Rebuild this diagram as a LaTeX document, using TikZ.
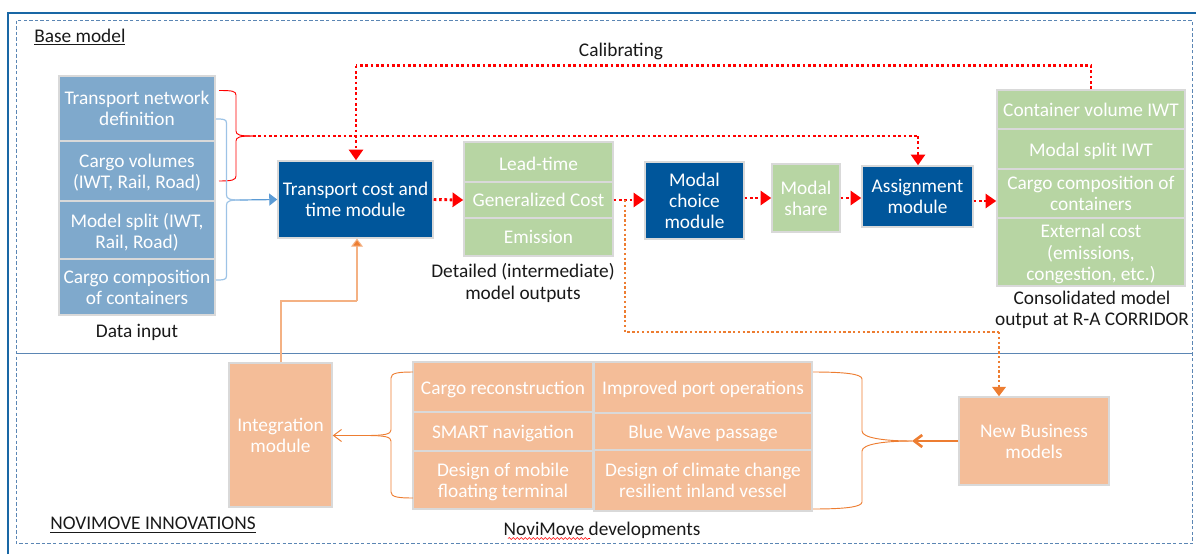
\documentclass[tikz,border=0pt]{standalone}
\usepackage{fontspec}
\setmainfont{Carlito}
\usetikzlibrary{arrows.meta,decorations.pathmorphing}
\definecolor{bluebox}{HTML}{7FA9CC}
\definecolor{navy}{HTML}{00569B}
\definecolor{greenbox}{HTML}{B7D5A3}
\definecolor{orangebox}{HTML}{F4BD98}
\definecolor{edgegrey}{HTML}{D9D9D9}
\definecolor{frameblue}{HTML}{5B86B4}
\definecolor{orangeline}{HTML}{ED7D31}
\definecolor{lightorange}{HTML}{F4B183}
\definecolor{lightblue}{HTML}{9DC3E6}
\definecolor{midblue}{HTML}{5B9BD5}
\newcommand{\bx}[7]{\node[boxbase,#6,minimum width={(#4-#2)*0.75pt},minimum height={(#5-#3)*0.75pt}] (#1) at ({(#2+#4)/2},{(#3+#5)/2}) {#7};}
\newcommand{\dn}[1]{\raisebox{-1.5pt}[\height][\depth]{#1}}
\tikzset{
  boxbase/.style={draw=edgegrey,line width=1.1pt,inner sep=0pt,align=center,text=white,font=\fontsize{14.5}{15.8}\selectfont},
  bluefill/.style={fill=bluebox},
  navyfill/.style={fill=navy,text=white},
  greenfill/.style={fill=greenbox},
  orangefill/.style={fill=orangebox},
  lbl/.style={text=black!90,align=center,inner sep=0pt,font=\fontsize{14.5}{16.2}\selectfont},
  reddot/.style={draw=red,line width=2.2pt,dash pattern=on 2pt off 2pt,-{Triangle[length=8pt,width=10.5pt,fill=red]}},
  reddotplain/.style={draw=red,line width=2.2pt,dash pattern=on 2pt off 2pt},
  orangedot/.style={draw=orangeline,line width=1.8pt,dash pattern=on 1.8pt off 1.8pt},
  thinbrace/.style={line width=0.7pt},
}
\begin{document}
\begin{tikzpicture}[x=0.75pt,y=-0.75pt]
\useasboundingbox (0,0) rectangle (1196,554);
% frames
\draw[draw=navy!90,line width=1.5pt] (7.5,554) -- (7.5,12.5) -- (1196,12.5);
\draw[frameblue,line width=0.7pt,dash pattern=on 2.6pt off 1.6pt] (16,20.5) rectangle (1192.5,543.5);
\draw[frameblue,line width=0.7pt] (16,353.5) -- (1192.5,353.5);
% left input boxes
\bx{tn}{59}{76}{215}{141}{bluefill}{Transport network\\definition}
\bx{cv}{59}{141}{215}{201}{bluefill}{\dn{Cargo volumes}\\\dn{(IWT, Rail, Road)}}
\bx{ms}{59}{201}{215}{259}{bluefill}{\dn{Model split (IWT,}\\\dn{Rail, Road)}}
\bx{cc}{59}{259}{215}{315}{bluefill}{Cargo composition\\of containers}
% modules
\bx{tc}{278}{161}{433}{238}{navyfill}{Transport cost and\\time module}
\bx{lt}{464}{142}{613}{182}{greenfill}{\dn{Lead-time}}
\bx{gc}{464}{182}{613}{218}{greenfill}{Generalized Cost}
\bx{em}{464}{218}{613}{256}{greenfill}{Emission}
\bx{mc}{645}{162}{744}{239}{navyfill}{Modal\\choice\\module}
\bx{mshare}{772}{164}{840}{232}{greenfill}{Modal\\share}
\bx{am}{862}{166}{973}{227}{navyfill}{Assignment\\module}
\bx{cvol}{997}{90}{1185}{129}{greenfill}{Container volume IWT}
\bx{msp}{997}{129}{1185}{169}{greenfill}{\dn{Modal split IWT}}
\bx{ccomp}{997}{169}{1185}{218}{greenfill}{Cargo composition of\\containers}
\bx{ext}{997}{218}{1185}{286}{greenfill}{\dn{External cost}\\\dn{(emissions,}\\\dn{congestion, etc.)}}
% innovations
\bx{im}{229}{363}{332}{507}{orangefill}{Integration\\module}
\bx{cr}{413}{362}{593}{412}{orangefill}{\dn{Cargo reconstruction}}
\bx{sn}{413}{412}{593}{451}{orangefill}{\dn{SMART navigation}}
\bx{dm}{413}{451}{593}{509}{orangefill}{\dn{Design of mobile}\\\dn{floating terminal}}
\bx{ip}{594}{362}{812}{413}{orangefill}{\dn{Improved port operations}}
\bx{bw}{594}{413}{812}{450}{orangefill}{\dn{Blue Wave passage}}
\bx{dc}{594}{450}{812}{511}{orangefill}{Design of climate change\\resilient inland vessel}
\bx{nb}{959}{397}{1109}{485}{orangefill}{New Business\\models}
% labels
\node[lbl,anchor=west] (base) at (34,37) {\underline{Base model}};
\node[lbl] (calib) at (621,51) {Calibrating};
\node[lbl] (di) at (137,332) {Data input};
\node[lbl] (dt) at (523,283) {Detailed (intermediate)\\model outputs};
\node[lbl] (cons) at (1092,310) {Consolidated model\\output at R-A CORRIDOR};
\node[lbl,anchor=west] (nin) at (50,525) {\underline{NOVIMOVE INNOVATIONS}};
\node[lbl] (nd) at (602,530) {NoviMove developments};
\coordinate (sq1) at (508,538.5);
\coordinate (sq2) at (590,538.5);
\draw[red,line width=0.4pt,decorate,decoration={snake,amplitude=0.7pt,segment length=3pt}] (sq1) -- (sq2);
% red brace
\coordinate (rb1) at (219,90.5);
\coordinate (rb2) at (219,181);
\coordinate (rbt) at (253,136);
\draw[red,thinbrace] (rb1) .. controls (232,90.5) and (236,91) .. (236,95) -- (236,131) .. controls (236,135) and (240,136) .. (rbt);
\draw[red,thinbrace] (rb2) .. controls (232,181) and (236,180) .. (236,176) -- (236,141) .. controls (236,137) and (240,136) .. (rbt);
% blue brace
\coordinate (bb1) at (216,119);
\coordinate (bb2) at (216,280);
\coordinate (bbt) at (240,200);
\draw[lightblue,line width=0.9pt] (bb1) .. controls (223,119) and (226.5,119) .. (226.5,123) -- (226.5,195) .. controls (226.5,199) and (230,200) .. (bbt);
\draw[lightblue,line width=0.9pt] (bb2) .. controls (223,280) and (226.5,280) .. (226.5,276) -- (226.5,205) .. controls (226.5,201) and (230,200) .. (bbt);
\draw[midblue,line width=0.9pt,-{Triangle[length=6pt,width=9pt,fill=midblue]}] (bbt) -- (tc.west);
% red dotted
\coordinate (rc) at (918,136);
\draw[reddotplain] (rbt) -- (rc);
\draw[reddot] (rc) -- (am.north -| rc);
\coordinate (cal1) at (1091,89);
\coordinate (cal2) at (1091,65.5);
\coordinate (cal3) at (356,65.5);
\draw[reddotplain] (cal1) -- (cal2) -- (cal3);
\draw[reddot] (cal3) -- (tc.north -| cal3);
\draw[reddot] (tc.east) -- (gc.west);
\draw[reddot] (gc.east) -- (mc.west |- gc.east);
\draw[reddot] (mc.east |- mshare.west) -- (mshare.west);
\draw[reddot] (mshare.east) -- (am.west |- mshare.east);
\draw[reddot] (am.east |- 0,201) -- (ccomp.west |- 0,201);
% orange
\coordinate (od1) at (625,200);
\coordinate (od2) at (625,332);
\coordinate (od3) at (999,332);
\draw[orangedot] (od1) -- (od2) -- (od3);
\draw[orangedot,-{Triangle[length=7pt,width=10pt,fill=orangeline]}] (od3) -- (nb.north -| od3);
\coordinate (iu1) at (281,301);
\coordinate (iu2) at (357,301);
\draw[lightorange,line width=0.8pt] (im.north -| iu1) -- (iu1) -- (iu2);
\draw[lightorange,line width=0.8pt,-{Triangle[length=6pt,width=9pt,fill=orangeline]}] (iu2) -- (tc.south -| iu2);
% right brace
\coordinate (ob1) at (813,372);
\coordinate (ob2) at (813,509);
\coordinate (obt) at (912,441);
\draw[orangeline,thinbrace] (ob1) .. controls (845,372) and (862,374) .. (862,379) -- (862,431) .. controls (862,438) and (885,441) .. (obt);
\draw[orangeline,thinbrace] (ob2) .. controls (845,509) and (862,507) .. (862,502) -- (862,451) .. controls (862,444) and (885,441) .. (obt);
\draw[orangeline,line width=2pt,-{Straight Barb[length=6pt,width=9pt]}] (nb.west |- obt) -- (obt);
% left brace
\coordinate (lb1) at (413,372);
\coordinate (lb2) at (413,498);
\coordinate (lbt) at (367,435.5);
\draw[orangeline,thinbrace] (lb1) .. controls (398,372) and (391,373) .. (391,378) -- (391,430) .. controls (391,434) and (385,435.5) .. (lbt);
\draw[orangeline,thinbrace] (lb2) .. controls (398,498) and (391,497) .. (391,492) -- (391,441) .. controls (391,437) and (385,435.5) .. (lbt);
\draw[orangeline,thinbrace,-{Straight Barb[length=6pt,width=9pt]}] (lbt) -- (im.east |- lbt);
\end{tikzpicture}
\end{document}
